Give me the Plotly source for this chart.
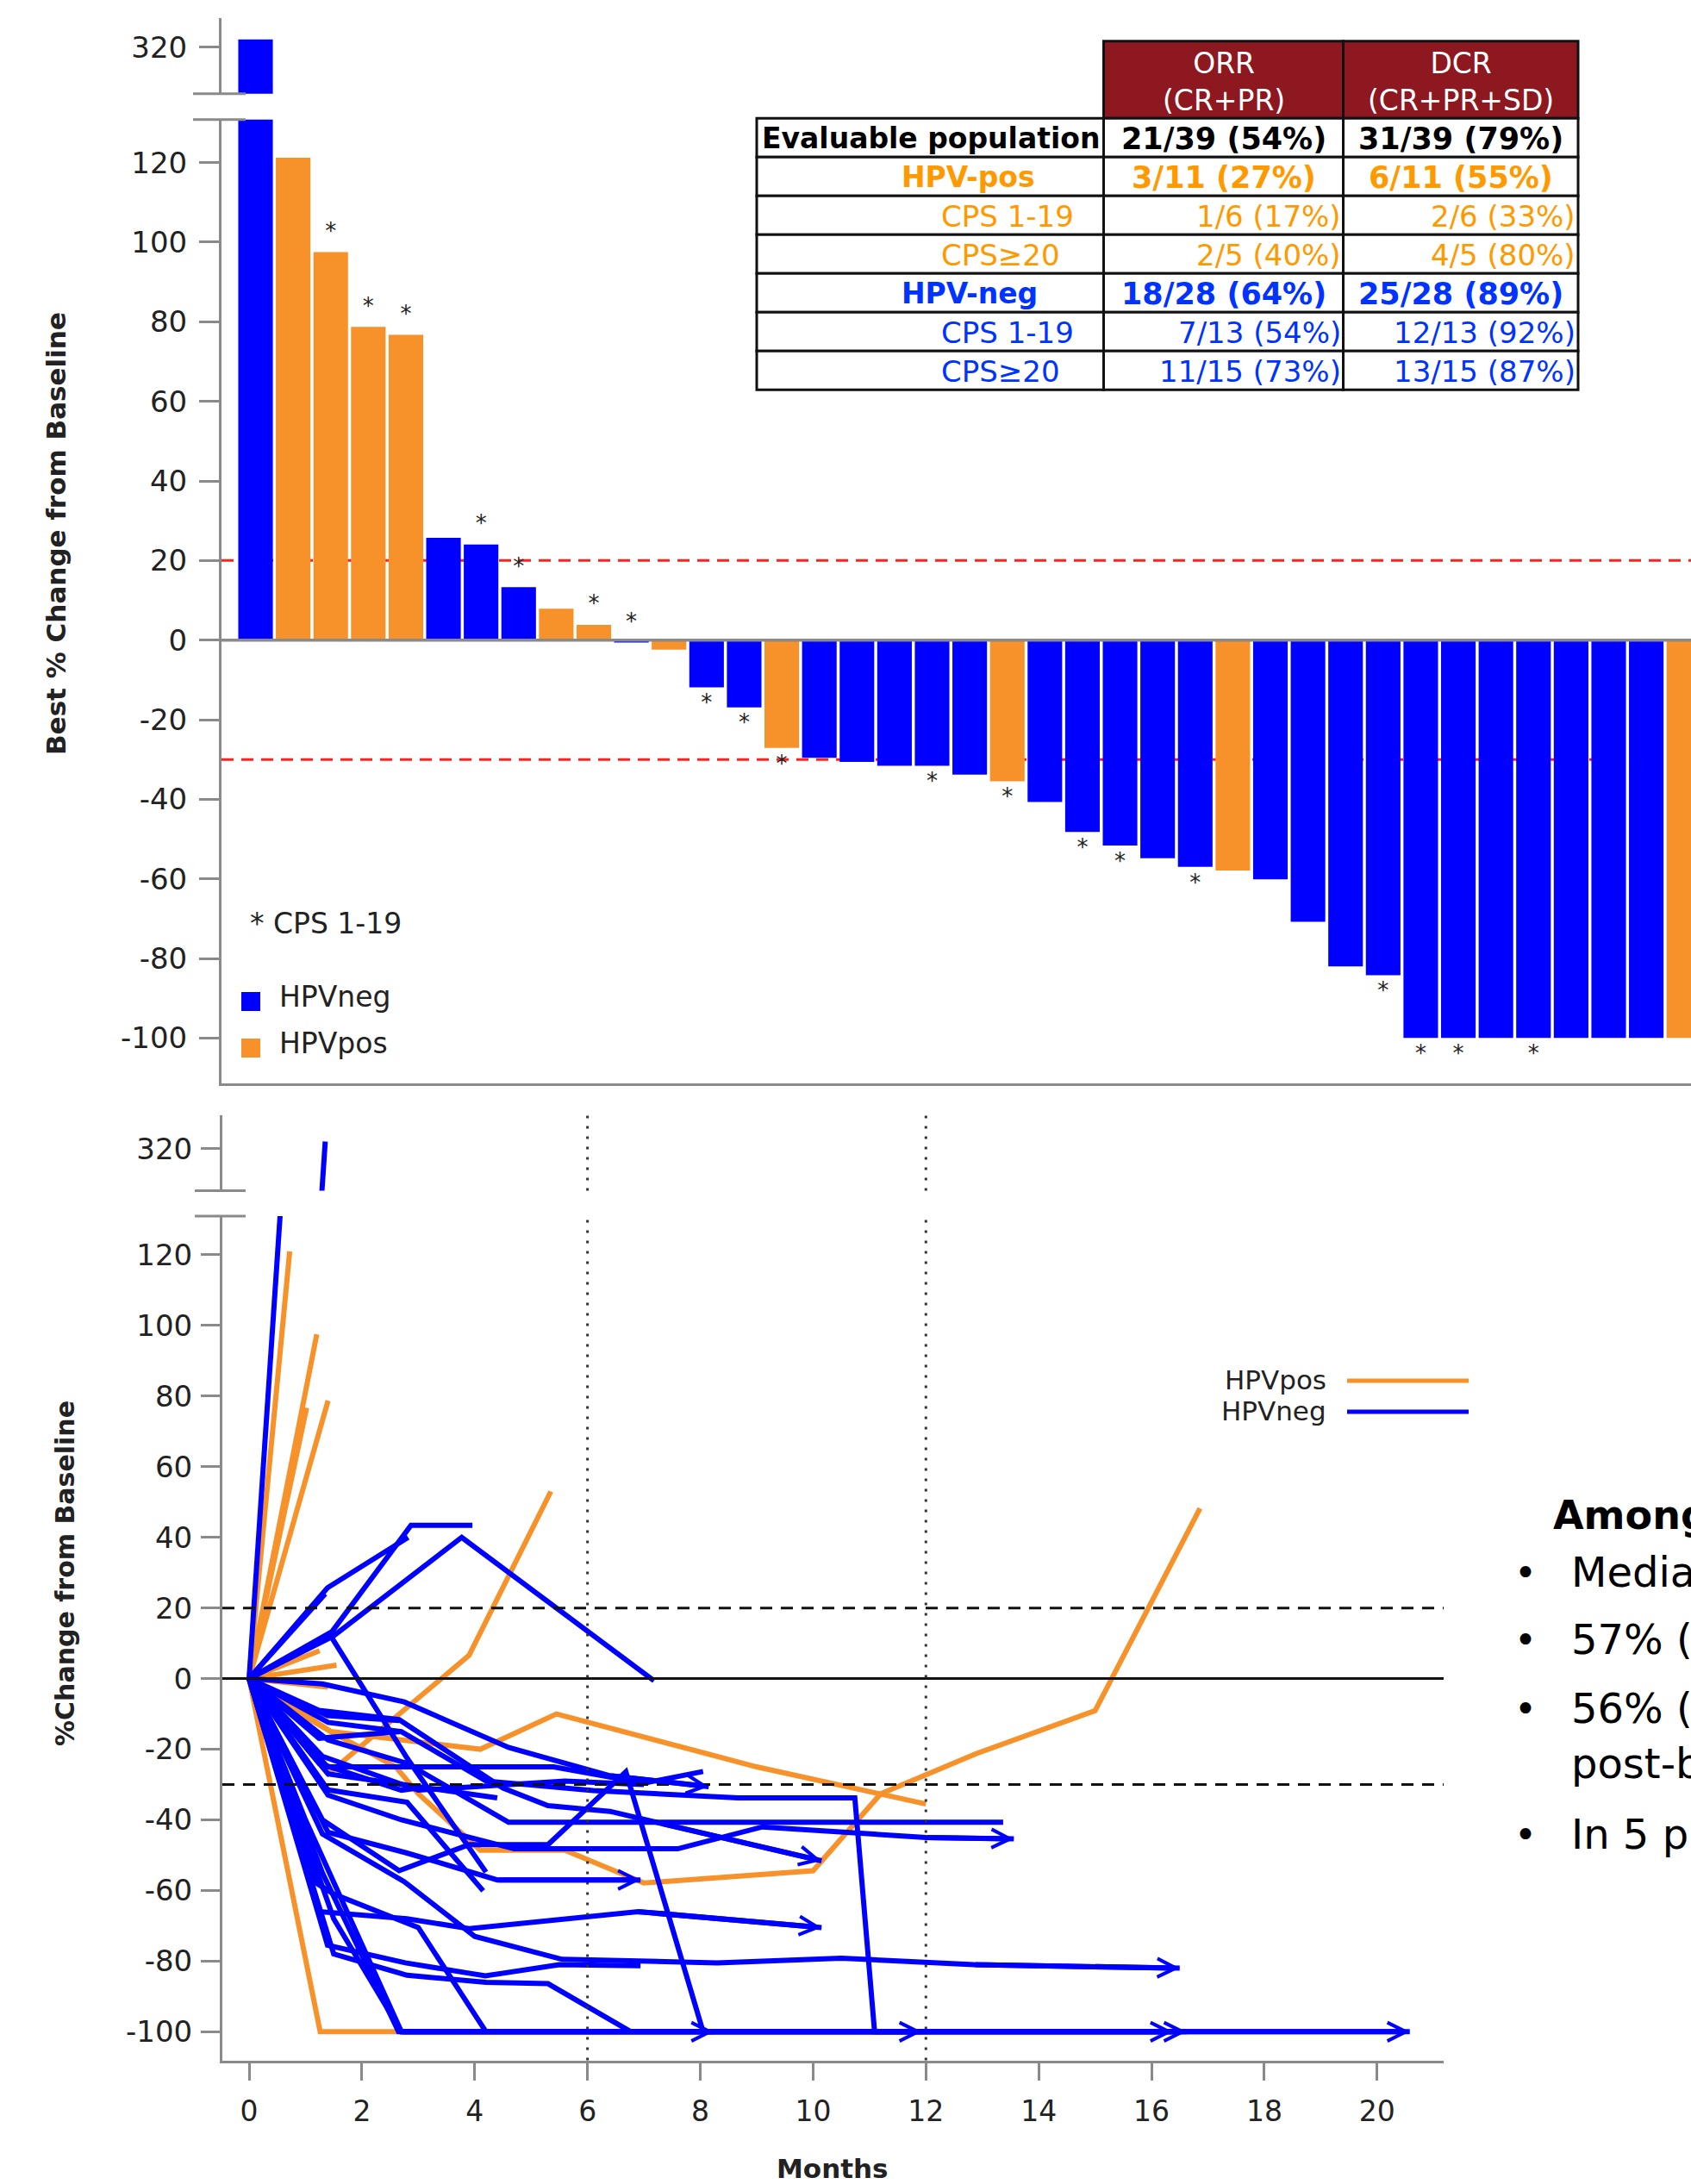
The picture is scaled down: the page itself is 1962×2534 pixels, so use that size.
import plotly.graph_objects as go

W, H = 1962, 2534

# ---------------- waterfall data (best % change from baseline) ----------------
best_change = [322, 121.2, 97.5, 78.7, 76.7, 25.7, 24.0, 13.3, 7.9, 3.8, -0.6, -2.4,
               -11.9, -16.9, -27.1, -29.6, -30.6, -31.6, -31.6, -33.8, -35.5, -40.7,
               -48.2, -51.6, -54.8, -57.0, -57.9, -60.1, -70.8, -82.0, -84.2,
               -100, -100, -100, -100, -100, -100, -100, -100]
hpv_status = ['neg', 'pos', 'pos', 'pos', 'pos', 'neg', 'neg', 'neg', 'pos', 'pos', 'neg', 'pos',
              'neg', 'neg', 'pos', 'neg', 'neg', 'neg', 'neg', 'neg', 'pos', 'neg',
              'neg', 'neg', 'neg', 'neg', 'pos', 'neg', 'neg', 'neg', 'neg',
              'neg', 'neg', 'neg', 'neg', 'neg', 'neg', 'neg', 'pos']
cps_group = ['>=20', '>=20', '1-19', '1-19', '1-19', '>=20', '1-19', '1-19', '>=20', '1-19', '1-19', '>=20',
             '1-19', '1-19', '1-19', '>=20', '>=20', '>=20', '1-19', '>=20', '1-19', '>=20',
             '1-19', '1-19', '>=20', '1-19', '>=20', '>=20', '>=20', '>=20', '1-19',
             '1-19', '1-19', '>=20', '1-19', '>=20', '>=20', '>=20', '>=20']
wf_ticks = [-100, -80, -60, -40, -20, 0, 20, 40, 60, 80, 100, 120]
break_tick = [320]
month_ticks = [0, 2, 4, 6, 8, 10, 12, 14, 16, 18, 20]

# ---------------- response table ----------------
tbl_header = ['ORR<br>(CR+PR)', 'DCR<br>(CR+PR+SD)']
tbl_labels = ['Evaluable population', 'HPV-pos', 'CPS 1-19', 'CPS\u226520', 'HPV-neg', 'CPS 1-19', 'CPS\u226520']
tbl_orr = ['21/39 (54%)', '3/11 (27%)', '1/6 (17%)', '2/5 (40%)', '18/28 (64%)', '7/13 (54%)', '11/15 (73%)']
tbl_dcr = ['31/39 (79%)', '6/11 (55%)', '2/6 (33%)', '4/5 (80%)', '25/28 (89%)', '12/13 (92%)', '13/15 (87%)']
tbl_group = ['all', 'pos', 'pos', 'pos', 'neg', 'neg', 'neg']
tbl_level = [0, 1, 2, 2, 1, 2, 2]

# ---------------- spider data (months, % change) ----------------
spider_months = [
    [0, 0.72], [0, 1.2], [0, 1.02], [0, 1.4], [0, 1.55], [0, 1.25], [0, 1.4],
    [0, 1.4, 3.9, 5.35],
    [0, 0.9, 1.45, 4.1, 5.45, 9.0, 12.0],
    [0, 1.45, 2.6, 3.0, 4.1, 5.6, 7.0, 10.0, 11.2, 12.9, 15.0, 16.86],
    [0, 1.26, 2.64],
    [0, 1.35], [0, 1.39, 2.82], [0, 1.35], [0, 1.47, 2.87, 3.96], [0, 1.49, 3.77, 7.18],
    [0, 1.3, 2.75, 4.6, 6.4, 8.15],
    [0, 1.4, 2.7, 4.2, 6.1, 8.67, 10.74, 11.09, 11.93],
    [0, 1.24, 2.66, 4.5, 5.3, 6.4, 7.3, 10.15],
    [0, 1.39, 5.4, 7.0, 8.05],
    [0, 1.4, 4.4],
    [0, 1.4, 2.7, 4.7, 7.6, 9.1, 12.0, 13.56],
    [0, 1.24, 2.8, 3.9, 6.9, 10.15],
    [0, 1.2, 1.5, 3.0, 4.2],
    [0, 1.5, 2.8, 4.2, 5.3, 6.77],
    [0, 1.3, 2.75, 4.0, 5.55, 8.3, 10.5, 12.85, 16.5],
    [0, 1.39, 2.77, 4.19, 5.5, 6.94],
    [0, 1.4, 2.8, 4.4, 6.94],
    [0, 1.4, 2.8, 4.15],
    [0, 1.3, 2.66, 3.9, 5.3, 6.68, 8.05, 8.24],
    [0, 1.0, 2.7, 20.58],
    [0, 1.3, 2.65, 16.38],
    [0, 1.5, 2.7, 16.62],
    [0, 1.4, 2.8, 4.6, 13.37],
    [0, 1.45, 2.8, 4.2],
    [0, 1.39, 2.66],
    [0, 1.24, 2.7],
    [0, 1.3, 3.0, 5.6, 7.0],
    [0, 1.24, 2.7, 3.0],
]
spider_values = [
    [0, 121], [0, 97.5], [0, 76.7], [0, 78.7], [0, 3.8], [0, 7.9], [0, -2.4],
    [0, -27, 6.6, 53],
    [0, -10, -15, -20, -10, -25, -35.5],
    [0, -15, -25, -32.6, -48.6, -48.6, -57.9, -54.4, -32.6, -21.2, -9.1, 48.2],
    [0, -100, -100],
    [0, 322], [0, 25.7, 40], [0, 24], [0, 13.3, 43.4, 43.4], [0, 12, 40, -0.6],
    [0, -1.5, -6.6, -19.5, -27.5, -30.6],
    [0, -12.4, -15, -29, -31.7, -33.8, -33.8, -100, -100],
    [0, -9, -11.6, -31, -36, -37.6, -41, -51.6],
    [0, -25, -25, -29.6, -26.3],
    [0, -27, -33.8],
    [0, -33, -40, -48.2, -48.2, -42, -45, -45.4],
    [0, -66, -68, -70.8, -66, -70.5],
    [0, -58, -61, -70.5, -100],
    [0, -78, -84, -86, -86.4, -100],
    [0, -44, -57.5, -73, -79.5, -80.5, -79.2, -81, -82],
    [0, -75.5, -80.5, -84.2, -81, -81.3],
    [0, -43.5, -49.4, -57, -57],
    [0, -31.5, -35, -60.1],
    [0, -40, -54.4, -47, -47, -26.4, -100, -100],
    [0, -40, -100, -100],
    [0, -55, -100, -100],
    [0, -68, -100, -100],
    [0, -17.4, -24, -40.7, -40.7],
    [0, 12, -22.5, -54.8],
    [0, -10.5, -11.9],
    [0, -16.9, -15],
    [0, -22, -31.6, -29, -30],
    [0, -24, -31.6, -31],
]
spider_group = ['pos'] * 11 + ['neg'] * 28
spider_ongoing = [False] * 11 + [False, False, False, False, False,
                                 True, True, True, False, False, True, True, False, False, True,
                                 False, True, False, True, True, True, True, False, False, False,
                                 False, False, False]

bullet_lines = ['Media', '57% (', '56% (', 'In 5 p']

# ---------------- styling ----------------
ORANGE = '#F7922A'
BLUE = '#0000FF'
TXT_OR = '#FF9900'
TXT_BL = '#0033FF'
HDR_RED = '#8E1820'
GRAY = '#8A8A8A'
INK = '#222222'
FONT = 'DejaVu Sans'


def px(p):
    return p / W


def py(p):
    return 1 - p / H


fig = go.Figure()

# waterfall bars (lower + upper broken segment)
bar_colors = [BLUE if s == 'neg' else ORANGE for s in hpv_status]
xs = list(range(len(best_change)))
for xa, ya in (('x', 'y'), ('x3', 'y3')):
    fig.add_trace(go.Bar(x=xs, y=best_change, width=0.92, xaxis=xa, yaxis=ya,
                         marker=dict(color=bar_colors, line=dict(width=0)), hoverinfo='skip'))

ast_x = [i for i, c in enumerate(cps_group) if c == '1-19']
ast_y = [best_change[i] + 4.8 if best_change[i] > -1 else best_change[i] - 4.4 for i in ast_x]
fig.add_trace(go.Scatter(x=ast_x, y=ast_y, mode='text', text=['*'] * len(ast_x),
                         textfont=dict(size=26, color=INK, family=FONT), xaxis='x', yaxis='y',
                         hoverinfo='skip', cliponaxis=False))

# spider lines: orange first, blue on top
annotations = []
for grp in ('pos', 'neg'):
    col = ORANGE if grp == 'pos' else BLUE
    for m, v, g, on in zip(spider_months, spider_values, spider_group, spider_ongoing):
        if g != grp:
            continue
        for xa, ya in (('x2', 'y2'), ('x4', 'y4')):
            fig.add_trace(go.Scatter(x=m, y=v, mode='lines', line=dict(color=col, width=6),
                                     xaxis=xa, yaxis=ya, hoverinfo='skip'))
        if on:
            annotations.append(dict(x=m[-1], y=v[-1], ax=m[-2], ay=v[-2], xref='x2', yref='y2',
                                    axref='x2', ayref='y2', text='', showarrow=True, arrowhead=5,
                                    arrowsize=0.7, arrowwidth=6, arrowcolor=col, standoff=0))

shapes = []
# waterfall reference lines
for yv in (20, -30):
    shapes.append(dict(type='line', xref='x domain', yref='y', x0=0, x1=1, y0=yv, y1=yv,
                       line=dict(color='#FF2020', width=3, dash='14px,9px'), layer='below'))
shapes.append(dict(type='line', xref='x domain', yref='y', x0=0, x1=1, y0=0, y1=0,
                   line=dict(color=GRAY, width=3.5), layer='above'))
# spider reference lines
shapes.append(dict(type='line', xref='x2 domain', yref='y2', x0=0, x1=1, y0=0, y1=0,
                   line=dict(color='#111111', width=3), layer='above'))
for yv in (20, -30):
    shapes.append(dict(type='line', xref='x2 domain', yref='y2', x0=0, x1=1, y0=yv, y1=yv,
                       line=dict(color='#111111', width=3, dash='14px,10px'), layer='above'))
for xv in (6, 12):
    for yr in ('y2 domain', 'y4 domain'):
        shapes.append(dict(type='line', xref='x2', yref=yr, x0=xv, x1=xv, y0=0, y1=1,
                           line=dict(color='#333333', width=3, dash='3px,9px'), layer='above'))
# axis break marks
for yb in (108.7, 138.8):
    shapes.append(dict(type='line', xref='paper', yref='paper', x0=px(224), x1=px(285),
                       y0=py(yb), y1=py(yb), line=dict(color=GRAY, width=3)))
for yb in (1381.4, 1410.9):
    shapes.append(dict(type='line', xref='paper', yref='paper', x0=px(226), x1=px(285),
                       y0=py(yb), y1=py(yb), line=dict(color=GRAY, width=3)))

# waterfall legend
for i, (name, col) in enumerate((('HPVneg', BLUE), ('HPVpos', ORANGE))):
    top = 1151 + 54 * i
    shapes.append(dict(type='rect', xref='paper', yref='paper', x0=px(280), x1=px(302),
                       y0=py(top + 22), y1=py(top), fillcolor=col, line=dict(width=0)))
    annotations.append(dict(x=px(322), y=py(top + 5), xref='paper', yref='paper', text=name,
                            showarrow=False, xanchor='left', yanchor='middle',
                            font=dict(size=33, color=INK, family=FONT)))
annotations.append(dict(x=px(288), y=py(1071), xref='paper', yref='paper', text='* CPS 1-19',
                        showarrow=False, xanchor='left', yanchor='middle',
                        font=dict(size=33, color=INK, family=FONT)))

# spider legend
for i, (name, col) in enumerate((('HPVpos', ORANGE), ('HPVneg', BLUE))):
    yc = 1602 + 36 * i
    shapes.append(dict(type='line', xref='paper', yref='paper', x0=px(1563), x1=px(1704),
                       y0=py(yc), y1=py(yc), line=dict(color=col, width=5)))
    annotations.append(dict(x=px(1541), y=py(yc - 1), xref='paper', yref='paper', text=name,
                            showarrow=False, xanchor='right', yanchor='middle',
                            font=dict(size=31, color=INK, family=FONT)))

# table
col_x = [878, 1280.5, 1558.5, 1831]
hdr_top, row_top, row_h = 47.7, 137.3, 45.0
for j in range(2):
    shapes.append(dict(type='rect', xref='paper', yref='paper', x0=px(col_x[j + 1]), x1=px(col_x[j + 2]),
                       y0=py(row_top), y1=py(hdr_top), fillcolor=HDR_RED,
                       line=dict(color='#111111', width=3)))
    annotations.append(dict(x=px((col_x[j + 1] + col_x[j + 2]) / 2), y=py((hdr_top + row_top) / 2 + 2),
                            xref='paper', yref='paper', text=tbl_header[j], showarrow=False,
                            xanchor='center', yanchor='middle',
                            font=dict(size=33, color='white', family=FONT)))
grp_col = {'all': '#000000', 'pos': TXT_OR, 'neg': TXT_BL}
indent = {0: 4, 1: 166, 2: 212}
for k in range(len(tbl_labels)):
    y0 = row_top + row_h * k
    yc = y0 + row_h / 2 + 1
    for j in range(3):
        shapes.append(dict(type='rect', xref='paper', yref='paper', x0=px(col_x[j]), x1=px(col_x[j + 1]),
                           y0=py(y0 + row_h), y1=py(y0), fillcolor='white',
                           line=dict(color='#111111', width=3)))
    bold = tbl_level[k] < 2
    c = grp_col[tbl_group[k]]
    lab = '<b>%s</b>' % tbl_labels[k] if bold else tbl_labels[k]
    annotations.append(dict(x=px(col_x[0] + indent[tbl_level[k]]), y=py(yc), xref='paper', yref='paper',
                            text=lab, showarrow=False, xanchor='left', yanchor='middle',
                            font=dict(size=33 if bold else 34, color=c, family=FONT)))
    for j, vals in enumerate((tbl_orr, tbl_dcr)):
        if bold:
            annotations.append(dict(x=px((col_x[j + 1] + col_x[j + 2]) / 2), y=py(yc), xref='paper',
                                    yref='paper', text='<b>%s</b>' % vals[k], showarrow=False,
                                    xanchor='center', yanchor='middle',
                                    font=dict(size=35, color=c, family=FONT)))
        else:
            annotations.append(dict(x=px(col_x[j + 2] - 1), y=py(yc), xref='paper', yref='paper',
                                    text=vals[k], showarrow=False, xanchor='right', yanchor='middle',
                                    font=dict(size=34, color=c, family=FONT)))

# axis titles
annotations.append(dict(x=px(65), y=py(619), xref='paper', yref='paper', text='<b>Best % Change from Baseline</b>',
                        showarrow=False, textangle=-90, xanchor='center', yanchor='middle',
                        font=dict(size=31, color=INK, family=FONT)))
annotations.append(dict(x=px(75), y=py(1826), xref='paper', yref='paper', text='<b>%Change from Baseline</b>',
                        showarrow=False, textangle=-90, xanchor='center', yanchor='middle',
                        font=dict(size=30, color=INK, family=FONT)))
annotations.append(dict(x=px(966), y=py(2516), xref='paper', yref='paper', text='<b>Months</b>',
                        showarrow=False, xanchor='center', yanchor='middle',
                        font=dict(size=31, color=INK, family=FONT)))

# right-hand text block (cut by the page edge, as in the source slide)
annotations.append(dict(x=px(1800), y=py(1758), xref='paper', yref='paper', text='<b>Among</b>',
                        showarrow=False, xanchor='left', yanchor='middle',
                        font=dict(size=46, color='#000000', family=FONT)))
bullet_y = [1824, 1902, 1982, 2128]
for t, yb in zip(bullet_lines, bullet_y):
    annotations.append(dict(x=px(1770), y=py(yb), xref='paper', yref='paper', text='\u2022',
                            showarrow=False, xanchor='center', yanchor='middle',
                            font=dict(size=44, color='#000000', family=FONT)))
    annotations.append(dict(x=px(1821), y=py(yb), xref='paper', yref='paper', text=t,
                            showarrow=False, xanchor='left', yanchor='middle',
                            font=dict(size=48, color='#000000', family=FONT)))
annotations.append(dict(x=px(1821), y=py(2046), xref='paper', yref='paper', text='post-b',
                        showarrow=False, xanchor='left', yanchor='middle',
                        font=dict(size=48, color='#000000', family=FONT)))

axis_common = dict(showgrid=False, zeroline=False, showline=True, linecolor=GRAY, linewidth=3)
yax_common = dict(axis_common, ticks='outside', tickcolor=GRAY, tickwidth=2.5,
                  tickfont=dict(size=34, color=INK, family=FONT))

fig.update_layout(
    width=W, height=H, margin=dict(l=0, r=0, t=0, b=0),
    paper_bgcolor='white', plot_bgcolor='rgba(0,0,0,0)', showlegend=False,
    font=dict(family=FONT, color=INK),
    xaxis=dict(axis_common, domain=[px(257), 1], range=[-0.906, 38.19], ticks='', showticklabels=False,
               anchor='y'),
    yaxis=dict(yax_common, domain=[py(1256.5), py(138.8)], range=[-111.3, 130.8],
               tickvals=wf_ticks, ticktext=[str(t) for t in wf_ticks],
               ticklen=23, ticklabelstandoff=7, anchor='x'),
    xaxis3=dict(domain=[px(257), 1], range=[-0.906, 38.19], visible=False, anchor='y3'),
    yaxis3=dict(yax_common, domain=[py(108.7), py(21)], range=[308.3, 327.4],
                tickvals=break_tick, ticktext=[str(t) for t in break_tick],
                ticklen=23, ticklabelstandoff=7, anchor='x3'),
    xaxis2=dict(axis_common, domain=[px(258), px(1675)], range=[-0.474, 21.18],
                tickvals=month_ticks, ticktext=[str(t) for t in month_ticks],
                ticks='outside', ticklen=20, tickcolor=GRAY, tickwidth=2.5,
                tickfont=dict(size=33, color=INK, family=FONT), ticklabelstandoff=8, anchor='y2'),
    yaxis2=dict(yax_common, domain=[py(2390.5), py(1410.9)], range=[-108.1, 131.0],
                tickvals=wf_ticks, ticktext=[str(t) for t in wf_ticks],
                ticklen=22, ticklabelstandoff=3, anchor='x2'),
    xaxis4=dict(domain=[px(258), px(1675)], range=[-0.474, 21.18], visible=False, anchor='y4'),
    yaxis4=dict(yax_common, domain=[py(1381.4), py(1293.5)], range=[308.1, 329.6],
                tickvals=break_tick, ticktext=[str(t) for t in break_tick],
                ticklen=22, ticklabelstandoff=3, anchor='x4'),
    shapes=shapes,
    annotations=annotations,
)

fig.write_html("out.html", config={'displayModeBar': False},
               post_script="document.body.style.margin='0px';")
